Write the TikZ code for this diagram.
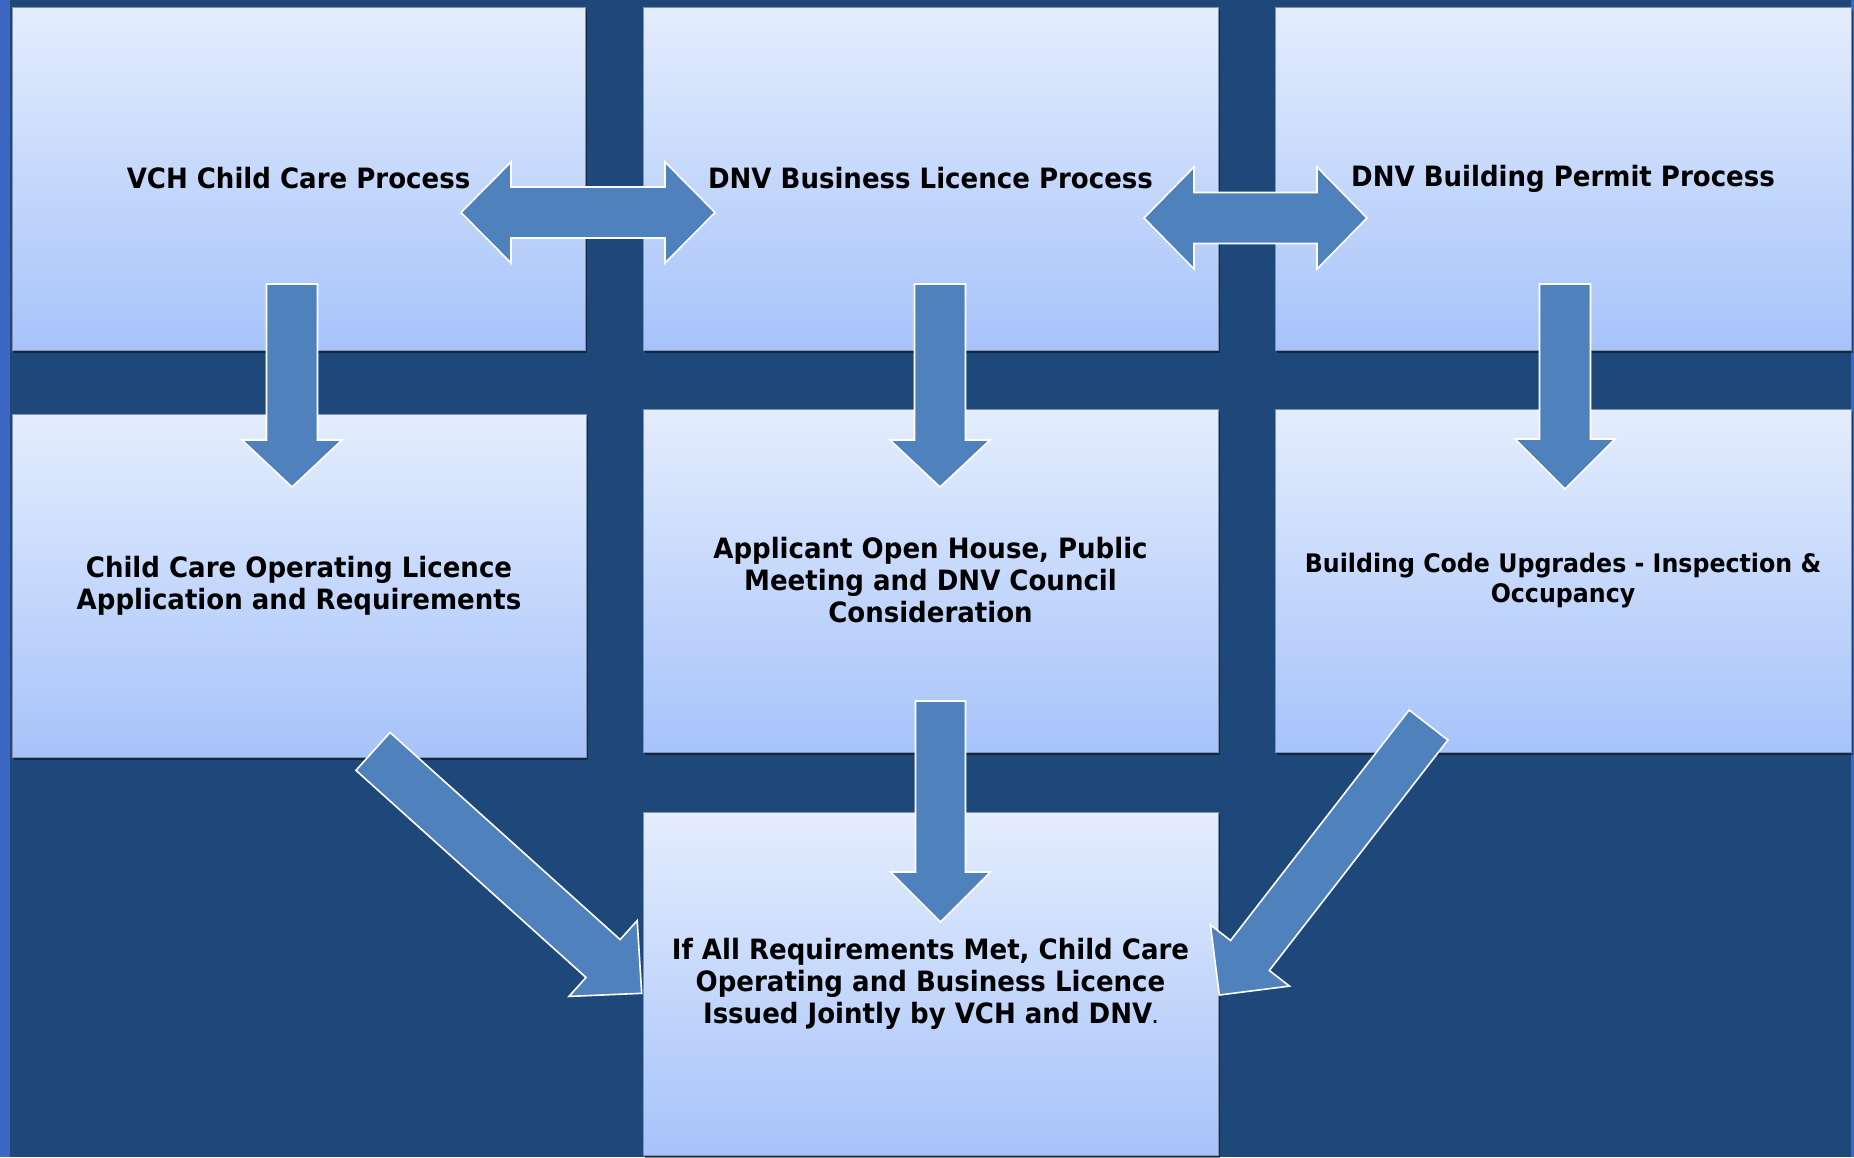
\documentclass[tikz,border=0pt]{standalone}
\usepackage{fontspec}
\usetikzlibrary{calc,shadows}
\newfontfamily\tah{DejaVu Sans}[FakeStretch=0.93,BoldFeatures={FakeStretch=0.93}]
\definecolor{bgblue}{HTML}{1F487A}
\definecolor{stripblue}{HTML}{3C68C4}
\definecolor{boxtop}{HTML}{E4EDFD}
\definecolor{boxbot}{HTML}{A6C3FA}
\definecolor{boxline}{HTML}{8393AC}
\definecolor{arrowfill}{HTML}{4F81BD}
\tikzset{
  box/.style={rectangle, inner sep=0pt, top color=boxtop, bottom color=boxbot,
    draw=boxline, line width=0.8pt, align=center, text=black,
    font=\tah\bfseries\fontsize{28}{32}\selectfont,
    drop shadow={shadow xshift=2pt, shadow yshift=-3pt, fill=black, opacity=0.45}},
  blockarrow/.style={fill=arrowfill, draw=white, line width=1.6pt, line join=miter}
}
% single block arrow: #1 tail, #2 tip, #3 shaft half width, #4 head half width, #5 head length
\newcommand\BlkArrow[5]{%
  \path ($(#2)!#5!(#1)$) coordinate (hbA);
  \draw[blockarrow] ($(#1)!#3!90:(#2)$) -- ($(hbA)!#3!90:(#2)$) -- ($(hbA)!#4!90:(#2)$)
    -- (#2) -- ($(hbA)!#4!-90:(#2)$) -- ($(hbA)!#3!-90:(#2)$) -- ($(#1)!#3!-90:(#2)$) -- cycle;
}
% double block arrow: #1 tip, #2 tip, #3 shaft half width, #4 head half width, #5 head length
\newcommand\DblArrow[5]{%
  \path ($(#1)!#5!(#2)$) coordinate (hbA) ($(#2)!#5!(#1)$) coordinate (hbB);
  \draw[blockarrow] (#1) -- ($(hbA)!#4!90:(#2)$) -- ($(hbA)!#3!90:(#2)$)
    -- ($(hbB)!#3!-90:(#1)$) -- ($(hbB)!#4!-90:(#1)$) -- (#2)
    -- ($(hbB)!#4!90:(#1)$) -- ($(hbB)!#3!90:(#1)$)
    -- ($(hbA)!#3!-90:(#2)$) -- ($(hbA)!#4!-90:(#2)$) -- cycle;
}
\begin{document}
\begin{tikzpicture}[x=1pt,y=-1pt]
\useasboundingbox (0,0) rectangle (1854,1157);
\fill[bgblue] (0,0) rectangle (1854,1157);
\fill[stripblue] (0,0) rectangle (10,1157);
\fill[stripblue] (1851,0) rectangle (1854,1157);

\node[box, minimum width=573pt, minimum height=343pt] (vch) at (298.5,178.5) {VCH Child Care Process};
\node[box, minimum width=575pt, minimum height=343pt] (bus) at (930.5,178.5) {DNV Business Licence Process};
\node[box, minimum width=576pt, minimum height=343pt] (bld) at (1563,178.5) {DNV Building Permit Process};
\node[box, minimum width=574pt, minimum height=343pt] (ccl) at (299,585.5) {Child Care Operating Licence\\Application and Requirements};
\node[box, minimum width=575pt, minimum height=343pt] (ohs) at (930.5,580.5) {Applicant Open House, Public\\Meeting and DNV Council\\Consideration};
\node[box, minimum width=576pt, minimum height=343pt, font=\tah\bfseries\fontsize{25.5}{30}\selectfont] (bcu) at (1563,580.5) {Building Code Upgrades - Inspection \&\\Occupancy};
\node[box, minimum width=575pt, minimum height=343pt] (fin) at (930.5,983.5) {If All Requirements Met, Child Care\\Operating and Business Licence\\Issued Jointly by VCH and DNV{\fontsize{16}{16}\selectfont.}};

% arrow end points
\coordinate (a1l) at (461,212.5);  \coordinate (a1r) at (715,212.5);
\coordinate (a2l) at (1144,218);   \coordinate (a2r) at (1367,218);
\coordinate (d1s) at (292,284);    \coordinate (d1e) at (292,487);
\coordinate (d2s) at (940,284);    \coordinate (d2e) at (940,487);
\coordinate (d3s) at (1565,284);   \coordinate (d3e) at (1565,489);
\coordinate (d4s) at (940.5,701);  \coordinate (d4e) at (940.5,922);
\coordinate (gls) at (373,751.4);  \coordinate (gle) at (641.7,993.3);
\coordinate (grs) at (1428.5,725); \coordinate (gre) at (1219.3,995);

\DblArrow{a1l}{a1r}{25.5pt}{50.5pt}{50pt}
\DblArrow{a2l}{a2r}{25.5pt}{51pt}{50pt}
\BlkArrow{d1s}{d1e}{25.5pt}{50pt}{47pt}
\BlkArrow{d2s}{d2e}{25.5pt}{50pt}{47pt}
\BlkArrow{d3s}{d3e}{25.5pt}{50pt}{50pt}
\BlkArrow{d4s}{d4e}{25pt}{50pt}{50pt}
\BlkArrow{gls}{gle}{25.5pt}{51pt}{52pt}
\BlkArrow{grs}{gre}{24.5pt}{50pt}{50pt}
\end{tikzpicture}
\end{document}
